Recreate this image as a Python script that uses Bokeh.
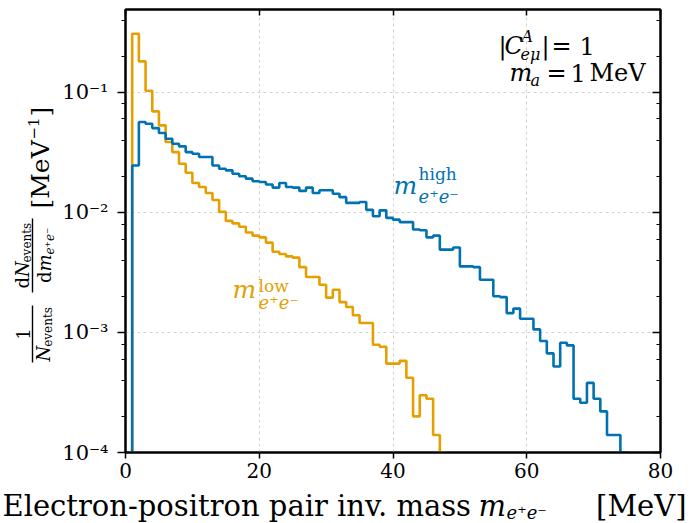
import math
import numpy as np
from bokeh.plotting import figure
from bokeh.layouts import row, column
from bokeh.models import (Label, LinearAxis, LogAxis, LogTicker, FixedTicker, Arrow,
                          Range1d, CustomJSTickFormatter)
from bokeh.embed import file_html
from bokeh.resources import INLINE

# ---------------- data ----------------
first_edge = 1.0          # MeV, lower edge of first bin
bin_width = 1.0           # MeV
x_ticks = [0, 20, 40, 60, 80]
x_grid_ticks = [20, 40, 60]
y_tick_exps = [-4, -3, -2, -1]
y_tick_labels = ["10\u207b\u2074", "10\u207b\u00b3", "10\u207b\u00b2", "10\u207b\u00b9"]

# normalized distribution of the heavier pair, m_ee^high (per 1 MeV bin from 1 MeV)
high = [0.0246, 0.0566, 0.0548, 0.0504, 0.0458, 0.0411, 0.0373, 0.0355, 0.0318, 0.0308,
        0.0289, 0.0289, 0.0246, 0.0231, 0.0224, 0.0210, 0.0200, 0.0191, 0.0182, 0.0179,
        0.0171, 0.0161, 0.0176, 0.0163, 0.0161, 0.0151, 0.0161, 0.0145, 0.0153, 0.0153,
        0.0143, 0.0134, 0.0120, 0.0120, 0.0122, 0.0105, 0.0093, 0.0104, 0.0090, 0.0087,
        0.0083, 0.0083, 0.0072, 0.0071, 0.0062, 0.0064, 0.0049, 0.0049, 0.0051, 0.00355,
        0.00355, 0.0035, 0.00275, 0.00275, 0.0020, 0.00197, 0.00145, 0.00158, 0.0013, 0.0013,
        0.00106, 0.00085, 0.00067, 0.00052, 0.00082, 0.00078, 0.00028, 0.00026, 0.00038, 0.00028,
        0.00022, 0.00014, 0.00014, 0.0001]

# normalized distribution of the lighter pair, m_ee^low
low = [0.308, 0.181, 0.103, 0.0695, 0.0531, 0.0386, 0.0318, 0.0254, 0.0214, 0.0176,
       0.0163, 0.0145, 0.0127, 0.0101, 0.0085, 0.0081, 0.0076, 0.0068, 0.0064, 0.0062,
       0.0056, 0.0047, 0.0045, 0.0043, 0.0042, 0.0035, 0.0029, 0.0029, 0.0025, 0.00195,
       0.00227, 0.00179, 0.00163, 0.00139, 0.0012, 0.0012, 0.00079, 0.00076, 0.00055, 0.00055,
       0.00058, 0.00042, 0.00020, 0.00030, 0.00028, 0.00014, 0.0001]

BLUE = "#0072B2"
ORANGE = "#E69F00"
FONT = "DejaVu Serif"

# ---------------- layout sizes ----------------
W, H = 698, 523
YLAB_W = 56            # side panel holding the rotated y label
MAIN_H = 486           # main figure height; x-label panel below
XLAB_H = H - MAIN_H
FRAME_LEFT, FRAME_TOP, FRAME_BOTTOM = 125, 9, 452
BASE_FIX = 0.28        # renderer puts alphabetic baselines ~0.28 em lower; compensate

p = figure(width=W - YLAB_W, height=MAIN_H, x_range=Range1d(0, 80), y_range=Range1d(1e-4, 0.49),
           y_axis_type="log", output_backend="svg", toolbar_location=None,
           min_border_left=FRAME_LEFT - YLAB_W, min_border_right=38, min_border_top=FRAME_TOP,
           min_border_bottom=MAIN_H - FRAME_BOTTOM)
p.background_fill_color = "white"
p.border_fill_color = "white"
p.outline_line_color = "black"
p.outline_line_width = 2

# bottom axis
xa = p.xaxis[0]
xa.ticker = FixedTicker(ticks=x_ticks)
xa.major_tick_out = 6
xa.major_tick_in = 0
xa.minor_tick_line_color = None
xa.axis_line_color = "black"
xa.axis_line_width = 2
xa.major_tick_line_width = 1.5
xa.major_label_text_font = FONT
xa.major_label_text_font_size = "20px"
xa.major_label_text_color = "black"
xa.major_label_standoff = 4

# left axis
ya = p.yaxis[0]
ya.ticker = LogTicker()
ya.formatter = CustomJSTickFormatter(
    args=dict(labels=y_tick_labels, exps=y_tick_exps),
    code="const e = Math.round(Math.log10(tick)); const i = exps.indexOf(e); return i >= 0 ? labels[i] : '';")
ya.major_tick_out = 8
ya.major_tick_in = 0
ya.minor_tick_out = 4
ya.minor_tick_in = 0
ya.axis_line_color = "black"
ya.axis_line_width = 2
ya.major_tick_line_width = 1.5
ya.minor_tick_line_width = 1.2
ya.major_label_text_font = FONT
ya.major_label_text_font_size = "21px"
ya.major_label_text_color = "black"
ya.major_label_standoff = 9

# right axis (ticks inward, no labels)
ra = LogAxis(ticker=LogTicker(), formatter=CustomJSTickFormatter(code="return '';"))
ra.major_tick_in = 8
ra.major_tick_out = 0
ra.minor_tick_in = 4
ra.minor_tick_out = 0
ra.axis_line_color = "black"
ra.axis_line_width = 2
ra.major_tick_line_width = 1.5
ra.minor_tick_line_width = 1.2
ra.major_label_standoff = 0
p.add_layout(ra, "right")

# top axis (ticks inward, no labels)
ta = LinearAxis(ticker=FixedTicker(ticks=x_ticks), formatter=CustomJSTickFormatter(code="return '';"))
ta.major_tick_in = 6
ta.major_tick_out = 0
ta.minor_tick_line_color = None
ta.axis_line_color = "black"
ta.axis_line_width = 2
ta.major_tick_line_width = 1.5
ta.major_label_standoff = 0
p.add_layout(ta, "above")

# grid
p.xgrid.ticker = FixedTicker(ticks=x_grid_ticks)
for g in (p.xgrid[0], p.ygrid[0]):
    g.grid_line_color = "#d2d2d2"
    g.grid_line_dash = "3 3"
    g.grid_line_width = 1
p.ygrid.minor_grid_line_color = None

# ---------------- histograms ----------------
FLOOR = 1e-6

def step_xy(vals):
    n = len(vals)
    edges = first_edge + bin_width * np.arange(n + 1)
    xs = np.repeat(edges, 2)
    ys = np.concatenate([[FLOOR], np.repeat(np.asarray(vals, dtype=float), 2), [FLOOR]])
    return xs, ys

xs, ys = step_xy(low)
p.line(xs, ys, line_color=ORANGE, line_width=2.6)
xs, ys = step_xy(high)
p.line(xs, ys, line_color=BLUE, line_width=2.6)

# ---------------- side panels for the axis titles ----------------
def blank(width, height):
    f = figure(width=width, height=height, x_range=Range1d(0, 1), y_range=Range1d(0, 1),
               output_backend="svg", toolbar_location=None,
               x_axis_location=None, y_axis_location=None,
               min_border=0, min_border_left=0, min_border_right=0,
               min_border_top=0, min_border_bottom=0)
    f.grid.visible = False
    f.outline_line_color = None
    f.background_fill_color = "white"
    f.border_fill_color = "white"
    return f

ylab = blank(YLAB_W, MAIN_H)   # its frame is aligned with the main frame (rows align frames)
xlab = blank(W, XLAB_H)

def make_lab(fig, frame_left, frame_bottom):
    def _lab(text, x, y, size, color="black", style="normal", align="left", angle=0.0):
        if angle:
            x = x - BASE_FIX * size
        else:
            y = y - BASE_FIX * size
        fig.add_layout(Label(x=x - frame_left, y=frame_bottom - y, x_units="screen", y_units="screen",
                             text=text, text_font=FONT, text_font_size=f"{size}px",
                             text_font_style=style, text_color=color, text_align=align,
                             text_baseline="alphabetic", angle=angle))
    return _lab

mlab = make_lab(p, FRAME_LEFT, FRAME_BOTTOM)
ylb = make_lab(ylab, 0, FRAME_BOTTOM)
xlb = make_lab(xlab, 0, H)

def bar(x, y0, y1):
    ylab.add_layout(Arrow(end=None, x_start=x, y_start=FRAME_BOTTOM - y0,
                          x_end=x, y_end=FRAME_BOTTOM - y1,
                          start_units="screen", end_units="screen",
                          line_color="black", line_width=1.4))

# x-axis title
xlb("Electron-positron pair inv. mass", 2, 514, 29)
xlb("m", 478, 514, 29, style="italic")
xlb("e\u207ae\u207b", 506, 517, 18, style="italic")
xlb("[MeV]", 686, 514, 29, align="right")

# y-axis title (rotated, reads bottom to top)
A = math.pi / 2
# 1 / N_events
ylb("1", 28, 333.5, 18, align="center", angle=A)
bar(32, 305, 362)
ylb("N", 48, 361, 18, style="italic", angle=A)
ylb("events", 51, 346.3, 12, angle=A)
# dN_events / dm_ee
bar(32, 218, 292)
ylb("d", 27, 288, 18, angle=A)
ylb("N", 27, 276.5, 18, style="italic", angle=A)
ylb("events", 30, 262, 12, angle=A)
ylb("d", 49, 282.5, 18, angle=A)
ylb("m", 49, 271, 18, style="italic", angle=A)
ylb("e\u207ae\u207b", 53, 254, 12, style="italic", angle=A)
# [MeV^-1]
ylb("[MeV", 47, 208, 25, angle=A)
ylb("\u22121", 37, 139, 15, angle=A)
ylb("]", 47, 116, 25, angle=A)

# top-right annotation
mlab("|", 498, 52, 24)
mlab("C", 504, 52, 24, style="italic")
mlab("A", 521, 40, 16, style="italic")
mlab("e\u03bc", 520, 58, 16, style="italic")
mlab("|", 541, 52, 24)
mlab("=", 551, 52, 24)
mlab("1", 579, 52, 24)
mlab("m", 509, 79, 24, style="italic")
mlab("a", 530, 84, 16, style="italic")
mlab("=", 546, 79, 24)
mlab("1", 570, 79, 24)
mlab("MeV", 589, 79, 24)

# curve labels
mlab("m", 393, 192, 25, color=BLUE, style="italic")
mlab("high", 418, 178, 17, color=BLUE)
mlab("e\u207ae\u207b", 418, 201, 18, color=BLUE, style="italic")
mlab("m", 232, 296, 25, color=ORANGE, style="italic")
mlab("low", 258, 290, 17, color=ORANGE)
mlab("e\u207ae\u207b", 258, 307, 18, color=ORANGE, style="italic")

layout = column(row(ylab, p, spacing=0), xlab, spacing=0)
open("out.html", "w").write(file_html(layout, INLINE))
